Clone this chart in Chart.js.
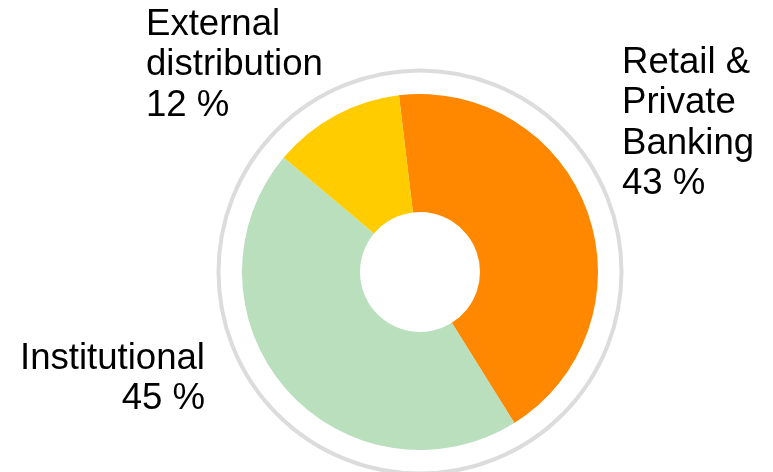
<!DOCTYPE html>
<html>
<head>
<meta charset="utf-8">
<script src="https://cdn.jsdelivr.net/npm/chart.js@4"></script>
<style>
  html, body { margin: 0; padding: 0; background: #fff; }
  #wrap { width: 773px; height: 472px; }
</style>
</head>
<body>
<div id="wrap"><canvas id="chart"></canvas></div>
<script>
// Business split doughnut

const categories = ['Retail & Private Banking', 'Institutional', 'External distribution'];
const shares = [43, 45, 12];
const labelLines = [
  ['Retail &', 'Private', 'Banking', '43 %'],
  ['Institutional', '45 %'],
  ['External', 'distribution', '12 %']
];
const colors = ['#ff8800', '#b9dfbc', '#ffcc00'];

// where each text block sits: x, first baseline, alignment
const labelAnchors = [
  { x: 622, y: 73, align: 'left' },
  { x: 205, y: 369, align: 'right' },
  { x: 146, y: 35, align: 'left' }
];

const outerRing = {
  id: 'outerRing',
  beforeDatasetsDraw(chart) {
    const arc = chart.getDatasetMeta(0).data[0];
    if (!arc) return;
    const ctx = chart.ctx;
    ctx.save();
    ctx.beginPath();
    ctx.arc(arc.x, arc.y, arc.outerRadius + 23.5, 0, Math.PI * 2);
    ctx.strokeStyle = '#dcdcdc';
    ctx.lineWidth = 4;
    ctx.stroke();
    ctx.restore();
  }
};

const sliceLabels = {
  id: 'sliceLabels',
  afterDraw(chart) {
    const ctx = chart.ctx;
    ctx.save();
    ctx.font = '36.6px "Liberation Sans", Arial, sans-serif';
    ctx.fillStyle = '#000';
    ctx.textBaseline = 'alphabetic';
    labelLines.forEach((lines, i) => {
      const a = labelAnchors[i];
      ctx.textAlign = a.align;
      lines.forEach((line, j) => ctx.fillText(line, a.x, a.y + j * 40.3));
    });
    ctx.restore();
  }
};

function initChart() {
  const ctx = document.getElementById('chart').getContext('2d');
  new Chart(ctx, {
    type: 'doughnut',
    data: {
      labels: categories,
      datasets: [{
        data: shares,
        backgroundColor: colors,
        borderWidth: 0,
        hoverOffset: 0
      }]
    },
    options: {
      responsive: true,
      maintainAspectRatio: false,
      animation: false,
      rotation: -6.8,
      cutout: '33.7%',
      layout: {
        padding: { left: 242, right: 175, top: 94, bottom: 22 }
      },
      plugins: {
        legend: { display: false },
        tooltip: { enabled: false }
      }
    },
    plugins: [outerRing, sliceLabels]
  });
}

initChart();
</script>
</body>
</html>
